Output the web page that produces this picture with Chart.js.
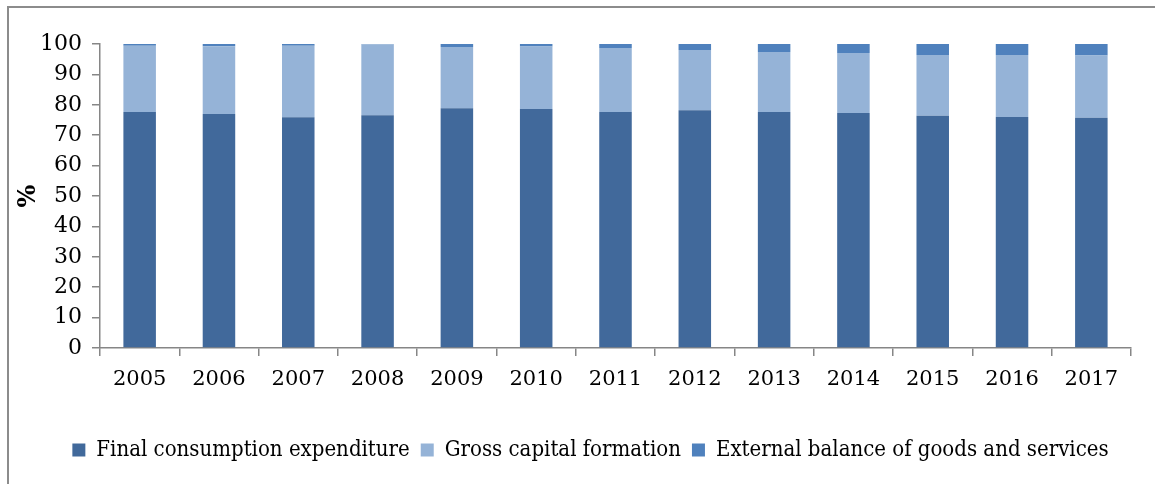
<!DOCTYPE html>
<html>
<head>
<meta charset="utf-8">
<script src="https://cdn.jsdelivr.net/npm/chart.js@4.4.0/dist/chart.umd.min.js"></script>
<style>
    body { margin: 0; background: #fff; }
    .frame {
        position: absolute;
        left: 7px;
        top: 6px;
        width: 1170px;
        height: 500px;
        border-left: 2px solid #8c8c8c;
        border-top: 2px solid #8c8c8c;
    }
    .wrap {
        position: absolute;
        left: 0;
        top: 0;
        width: 1155px;
        height: 484px;
    }
</style>
</head>
<body>
<div class="frame"></div>
<div class="wrap"><canvas id="graph"></canvas></div>
<script>
const years = ['2005', '2006', '2007', '2008', '2009', '2010', '2011', '2012', '2013', '2014', '2015', '2016', '2017'];
const finalConsumption = [77.6, 77.0, 75.9, 76.6, 78.9, 78.6, 77.6, 78.2, 77.6, 77.3, 76.4, 76.0, 75.7];
const grossCapital = [21.8, 22.3, 23.5, 23.3, 20.1, 20.6, 21.1, 19.8, 19.8, 19.7, 20.0, 20.4, 20.5];
const externalBalance = [0.6, 0.7, 0.6, 0.1, 1.0, 0.8, 1.3, 2.0, 2.6, 3.0, 3.6, 3.6, 3.8];
const yTicks = [0, 10, 20, 30, 40, 50, 60, 70, 80, 90, 100];

const graph = document.getElementById('graph').getContext('2d');
const axisColor = '#868686';
const serif = "'DejaVu Serif', 'Liberation Serif', serif";

function bar(label, data, color) {
    return {
        label: label,
        data: data,
        backgroundColor: color,
        borderWidth: 0,
        barPercentage: 0.41,
        categoryPercentage: 1.0
    };
}

// legend sits a bit right of the canvas centre in the original
const shiftLegend = {
    id: 'shiftLegend',
    afterLayout(chart) {
        chart.legend.left += 25;
        chart.legend.right += 25;
    }
};

new Chart(graph, {
    type: 'bar',
    data: {
        labels: years,
        datasets: [
            bar('Final consumption expenditure', finalConsumption, '#41699b'),
            bar('Gross capital formation', grossCapital, '#95b3d7'),
            bar('External balance of goods and services', externalBalance, '#4f81bd')
        ]
    },
    plugins: [shiftLegend],
    options: {
        responsive: true,
        maintainAspectRatio: false,
        animation: false,
        layout: {
            padding: { top: 44, right: 24, bottom: 13, left: 0 }
        },
        plugins: {
            tooltip: { enabled: false },
            legend: {
                position: 'bottom',
                labels: {
                    boxWidth: 13,
                    boxHeight: 13,
                    padding: 11,
                    color: '#000',
                    font: { family: "'DejaVu Serif Condensed', 'DejaVu Serif', serif", size: 22 }
                }
            }
        },
        scales: {
            x: {
                stacked: true,
                grid: {
                    display: true,
                    drawOnChartArea: false,
                    drawTicks: true,
                    tickLength: 8,
                    color: axisColor,
                    lineWidth: 1.5
                },
                border: { color: axisColor, width: 1.5 },
                ticks: {
                    color: '#000',
                    padding: 11,
                    maxRotation: 0,
                    font: { family: serif, size: 21 }
                },
                afterFit: function(scale) {
                    scale.height = 80;
                }
            },
            y: {
                stacked: true,
                min: 0,
                max: 100,
                afterBuildTicks: function(scale) {
                    scale.ticks = yTicks.map(v => ({ value: v }));
                },
                grid: {
                    display: true,
                    drawOnChartArea: false,
                    drawTicks: true,
                    tickLength: 8,
                    color: axisColor,
                    lineWidth: 1.5
                },
                border: { color: axisColor, width: 1.5 },
                ticks: {
                    color: '#000',
                    padding: 10,
                    font: { family: serif, size: 22 }
                },
                title: {
                    display: true,
                    text: '%',
                    color: '#000',
                    padding: { top: 14, bottom: 0 },
                    font: { family: serif, size: 24, weight: 'bold' }
                },
                afterFit: function(scale) {
                    scale.width = 100;
                }
            }
        }
    }
});
</script>
</body>
</html>
